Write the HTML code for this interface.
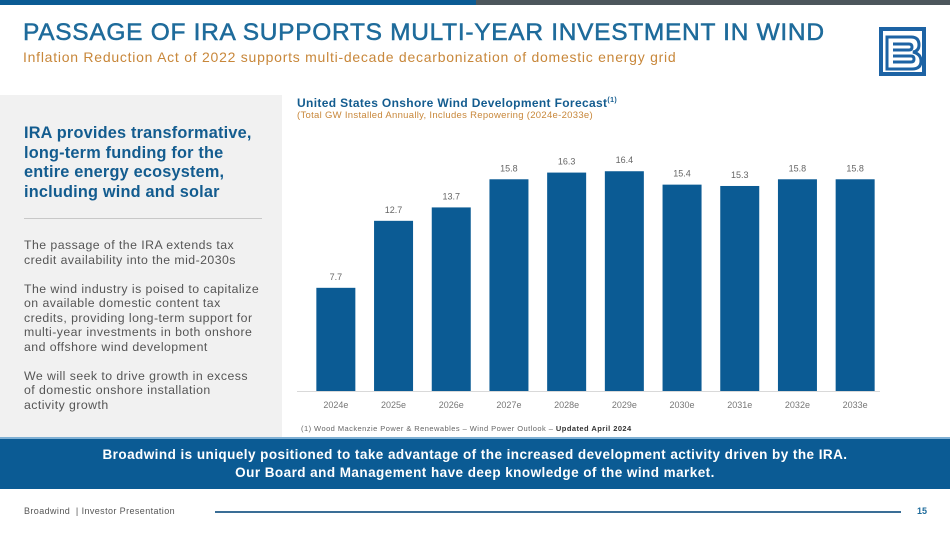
<!DOCTYPE html>
<html><head><meta charset="utf-8"><style>
*{margin:0;padding:0;box-sizing:border-box}
body{width:950px;height:534px;position:relative;background:#fff;font-family:"Liberation Sans",sans-serif;overflow:hidden}
.abs{position:absolute}
</style></head><body>
<div class="abs" style="left:0;top:0;width:476px;height:5px;background:#0b5b94"></div>
<div class="abs" style="left:476px;top:0;width:474px;height:5px;background:#4c565c"></div>
<div class="abs" style="left:23px;top:19px;font-size:24.5px;color:#1e6b9b;white-space:nowrap;letter-spacing:0.7px;-webkit-text-stroke:0.5px #1e6b9b">PASSAGE OF IRA SUPPORTS MULTI-YEAR INVESTMENT IN WIND</div>
<div class="abs" style="left:23px;top:49px;font-size:14px;color:#c8873a;white-space:nowrap;letter-spacing:0.75px">Inflation Reduction Act of 2022 supports multi-decade decarbonization of domestic energy grid</div>
<svg class="abs" style="left:879px;top:27px" width="48" height="49" viewBox="0 0 48 49">
<path d="M2 2 H45 V47 H2 Z" fill="none" stroke="#1d63a4" stroke-width="4"/>
<path d="M8 10 H32 Q40 10 40 18 Q40 24 34 25 Q42 27 42 34 Q42 42 33 42 H8 Z" fill="#fff" stroke="#1d63a4" stroke-width="3"/>
<path d="M14 17 H30 Q33 17 33 20 Q33 23 30 23 H14 M14 29 H32 Q35 29 35 32 Q35 35 32 35 H14" fill="none" stroke="#1d63a4" stroke-width="3"/>
</svg>
<div class="abs" style="left:0;top:95px;width:282px;height:342px;background:#f1f1f1"></div>
<div class="abs" style="left:24px;top:124px;width:246px;font-size:16.3px;font-weight:bold;line-height:19.5px;color:#135c8f;letter-spacing:0.2px">IRA provides transformative, long-term funding for the entire energy ecosystem, including wind and solar</div>
<div class="abs" style="left:24px;top:218px;width:238px;height:1px;background:#c8c8c8"></div>
<div class="abs" style="left:24px;top:238px;width:250px;font-size:12.3px;line-height:14.5px;color:#555;letter-spacing:0.45px">
<p style="margin-bottom:14.5px">The passage of the IRA extends tax<br>credit availability into the mid-2030s</p>
<p style="margin-bottom:14.5px">The wind industry is poised to capitalize<br>on available domestic content tax<br>credits, providing long-term support for<br>multi-year investments in both onshore<br>and offshore wind development</p>
<p>We will seek to drive growth in excess<br>of domestic onshore installation<br>activity growth</p></div>
<div class="abs" style="left:297px;top:96px;font-size:12px;font-weight:bold;color:#135c8f;white-space:nowrap;letter-spacing:0.35px">United States Onshore Wind Development Forecast<sup style="font-size:7px">(1)</sup></div>
<div class="abs" style="left:297px;top:110px;font-size:9.5px;color:#c8873a;white-space:nowrap;letter-spacing:0.3px">(Total GW Installed Annually, Includes Repowering (2024e-2033e)</div>
<svg class="abs" id="chart" style="left:0;top:0" width="950" height="534"></svg>
<div class="abs" style="left:301px;top:424px;font-size:7.5px;color:#666;white-space:nowrap;letter-spacing:0.45px">(1) Wood Mackenzie Power &amp; Renewables – Wind Power Outlook – <b style="color:#333">Updated April 2024</b></div>
<div class="abs" style="left:0;top:437px;width:950px;height:52px;background:#0b5b94;border-top:2px solid #7fb0d4;color:#fff;font-size:13.5px;font-weight:bold;text-align:center;line-height:18px;padding-top:7px;letter-spacing:0.45px">Broadwind is uniquely positioned to take advantage of the increased development activity driven by the IRA.<br>Our Board and Management have deep knowledge of the wind market.</div>
<div class="abs" style="left:24px;top:506px;font-size:9px;color:#555;white-space:nowrap;letter-spacing:0.4px">Broadwind &nbsp;| Investor Presentation</div>
<div class="abs" style="left:215px;top:511px;width:686px;height:1.5px;background:#3a6e96"></div>
<div class="abs" style="left:917px;top:506px;font-size:9px;font-weight:bold;color:#1e6b9b">15</div>
<script>
const categories=["2024e","2025e","2026e","2027e","2028e","2029e","2030e","2031e","2032e","2033e"];
const values=[7.7,12.7,13.7,15.8,16.3,16.4,15.4,15.3,15.8,15.8];
const labels=["7.7","12.7","13.7","15.8","16.3","16.4","15.4","15.3","15.8","15.8"];
const svg=document.getElementById('chart');const NS='http://www.w3.org/2000/svg';
const x0=307,step=57.7,bw=39,base=391,scale=13.4;
const xc=i=>x0+step*(i+0.5);const y=v=>base-v*scale;
function mk(t,a){const e=document.createElementNS(NS,t);for(const k in a)e.setAttribute(k,a[k]);svg.appendChild(e);return e;}
const ax=mk('line',{x1:297,x2:880,y1:base+0.5,y2:base+0.5,stroke:'#d9d9d9','stroke-width':1});


categories.forEach((c,i)=>{
const r=mk('rect',{x:xc(i)-bw/2,y:y(values[i]),width:bw,height:base-y(values[i]),fill:'#0b5b94'});


const t=mk('text',{x:xc(i),y:y(values[i])-8,'text-anchor':'middle','font-size':'9','fill':'#666','font-family':'Liberation Sans'});t.textContent=labels[i];


const l=mk('text',{x:xc(i),y:base+17,'text-anchor':'middle','font-size':'9','fill':'#777','font-family':'Liberation Sans'});l.textContent=c;


});
</script>
</body></html>
